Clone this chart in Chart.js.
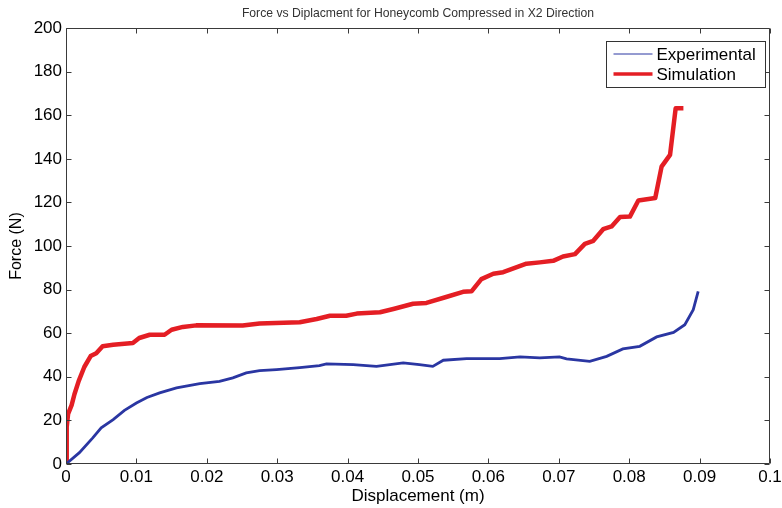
<!DOCTYPE html>
<html>
<head>
<meta charset="utf-8">
<script src="https://cdn.jsdelivr.net/npm/chart.js@4.4.1/dist/chart.umd.min.js"></script>
<style>
  html,body{margin:0;padding:0;background:#fff;}
  #wrap{width:782px;height:508px;}
</style>
</head>
<body>
<div id="wrap"><canvas id="c" width="782" height="508"></canvas></div>
<script>
// ---- data ----
const titleText = "Force vs Diplacment for Honeycomb Compressed in X2 Direction";
const xTitle = "Displacement (m)";
const yTitle = "Force (N)";
const seriesNames = ["Experimental", "Simulation"];

const expX = [0, 0.0019, 0.0038, 0.005, 0.0067, 0.0083, 0.01, 0.0115, 0.0133, 0.0157, 0.019, 0.0218, 0.0237, 0.0256, 0.0275, 0.0299, 0.0332, 0.036, 0.037, 0.0408, 0.0441, 0.0479, 0.0502, 0.0521, 0.0536, 0.0569, 0.0616, 0.0645, 0.0673, 0.0701, 0.0711, 0.0744, 0.0768, 0.0791, 0.0815, 0.0839, 0.0863, 0.0879, 0.0891, 0.0898];
const expY = [0, 5.2, 12, 16.6, 20.4, 24.6, 28, 30.5, 32.6, 34.9, 36.9, 37.9, 39.5, 41.8, 42.8, 43.3, 44.2, 45.1, 45.9, 45.6, 44.8, 46.4, 45.6, 44.8, 47.6, 48.3, 48.3, 49.1, 48.7, 49.1, 48.2, 47.1, 49.4, 52.8, 54, 58.3, 60.4, 63.9, 70.8, 79.2];

const simX = [0, 0.0001, 0.0003, 0.0008, 0.0012, 0.0018, 0.0026, 0.0035, 0.0043, 0.0052, 0.0067, 0.0095, 0.0104, 0.0119, 0.014, 0.015, 0.0166, 0.0185, 0.0251, 0.0275, 0.0332, 0.0356, 0.0375, 0.0398, 0.0413, 0.0446, 0.0465, 0.0493, 0.0512, 0.054, 0.0564, 0.0576, 0.059, 0.0607, 0.0621, 0.0654, 0.0673, 0.0692, 0.0706, 0.0723, 0.0737, 0.0749, 0.0763, 0.0775, 0.0787, 0.0801, 0.0813, 0.0837, 0.0846, 0.0858, 0.0866, 0.0877];
const simY = [0, 17, 23, 27, 32, 38, 44.5, 49.5, 50.8, 54, 54.7, 55.5, 57.8, 59.3, 59.3, 61.6, 62.9, 63.6, 63.5, 64.5, 65, 66.5, 68, 68, 69, 69.6, 71.1, 73.5, 73.9, 76.6, 79, 79.2, 84.8, 87.3, 88, 91.9, 92.5, 93.2, 95.2, 96.3, 101, 102.4, 107.7, 109, 113.3, 113.5, 120.9, 122, 136.4, 141.8, 163.2, 163.2];

const xMin = 0, xMax = 0.1, xStep = 0.01;
const yMin = 0, yMax = 200, yStep = 20;

// ---- styling ----
const FONT = "'Liberation Sans', Arial, Helvetica, sans-serif";
const blue = "rgb(42,54,162)";
const red = "rgb(228,30,36)";
const axisColor = "#3a3a3a";

function pts(xs, ys){ return xs.map((v,i)=>({x:v, y:ys[i]})); }

const framePlugin = {
  id: 'frame',
  afterDatasetsDraw(chart){
    const {ctx, chartArea:a, scales:{x, y}} = chart;
    ctx.save();
    ctx.strokeStyle = axisColor;
    ctx.lineWidth = 1;
    const L = Math.round(a.left)+0.5, R = Math.round(a.right)-0.5;
    const T = Math.round(a.top)+0.5, B = Math.round(a.bottom)-0.5;
    ctx.beginPath();
    ctx.rect(L, T, R-L, B-T);
    ctx.stroke();
    const tl = 5;
    ctx.beginPath();
    x.ticks.forEach(t=>{
      const px = Math.round(x.getPixelForValue(t.value))+0.5;
      ctx.moveTo(px, B); ctx.lineTo(px, B-tl);
      ctx.moveTo(px, T); ctx.lineTo(px, T+tl);
    });
    y.ticks.forEach(t=>{
      const py = Math.round(y.getPixelForValue(t.value))+0.5;
      ctx.moveTo(L, py); ctx.lineTo(L+tl, py);
      ctx.moveTo(R, py); ctx.lineTo(R-tl, py);
    });
    ctx.stroke();

    // legend box
    const bw = 159, bh = 46;
    const bx = Math.round(a.right) - 5 - bw + 0.5;
    const by = Math.round(a.top) + 13 + 0.5;
    ctx.fillStyle = '#fff';
    ctx.fillRect(bx, by, bw, bh);
    ctx.strokeStyle = '#333';
    ctx.strokeRect(bx, by, bw, bh);
    ctx.font = "17px " + FONT;
    ctx.textBaseline = 'middle';
    ctx.fillStyle = '#000';
    chart.data.datasets.forEach((ds, i)=>{
      const ly = by + 12.5 + i*20;
      ctx.strokeStyle = ds.borderColor;
      ctx.lineWidth = i === 0 ? 1 : 3.5;
      ctx.beginPath();
      ctx.moveTo(bx+7, Math.round(ly)); ctx.lineTo(bx+46, Math.round(ly));
      ctx.stroke();
      ctx.fillText(ds.label, bx+50, ly+1);
    });
    ctx.restore();
  }
};

new Chart(document.getElementById('c'), {
  type: 'line',
  data: {
    datasets: [
      { label: seriesNames[0], data: pts(expX, expY), borderColor: blue, borderWidth: 2.8, pointRadius: 0, tension: 0, fill: false },
      { label: seriesNames[1], data: pts(simX, simY), borderColor: red, borderWidth: 4.5, pointRadius: 0, tension: 0, fill: false, borderJoinStyle: 'round', borderCapStyle: 'butt' }
    ]
  },
  options: {
    responsive: false,
    animation: false,
    devicePixelRatio: 1,
    layout: { padding: { top: 0, right: 12, left: 0, bottom: 0 } },
    plugins: {
      legend: { display: false },
      tooltip: { enabled: false },
      title: {
        display: true, text: titleText, color: '#333', fullSize: false,
        font: { family: FONT, size: 12.2, weight: 'normal' },
        padding: { top: 6, bottom: 7.4 }
      }
    },
    scales: {
      x: {
        type: 'linear', min: xMin, max: xMax,
        afterFit(s){ s.height = 44; s.paddingRight = 12; },
        border: { display: false },
        grid: { display: false, drawTicks: false },
        ticks: {
          stepSize: xStep, color: '#000', padding: 3, maxRotation: 0, autoSkip: false,
          font: { family: FONT, size: 17 },
          callback: v => Number(v.toFixed(2)).toString()
        },
        title: { display: true, text: xTitle, color: '#000', font: { family: FONT, size: 17 }, padding: { top: 0, bottom: 1 } }
      },
      y: {
        type: 'linear', min: yMin, max: yMax,
        afterFit(s){ s.width = 66; },
        border: { display: false },
        grid: { display: false, drawTicks: false },
        ticks: {
          stepSize: yStep, color: '#000', padding: 4, autoSkip: false,
          font: { family: FONT, size: 17 }
        },
        title: { display: true, text: yTitle, color: '#000', font: { family: FONT, size: 16 }, padding: { top: 7, bottom: 0 } }
      }
    }
  },
  plugins: [framePlugin]
});
</script>
</body>
</html>
